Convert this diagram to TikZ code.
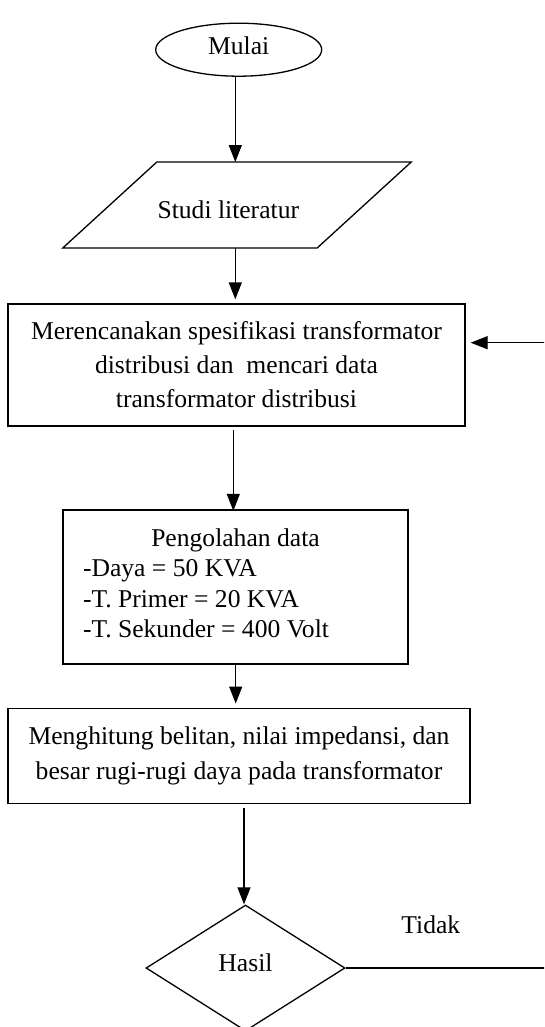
\documentclass[tikz,border=0pt]{standalone}
\usepackage{fontspec}
\setmainfont{Liberation Serif}
\usetikzlibrary{shapes.geometric,arrows.meta,calc}
\begin{document}
\begin{tikzpicture}[x=1pt,y=-1pt,
  every node/.style={font=\fontsize{25.6pt}{34pt}\selectfont},
  line/.style={line width=1.3pt},
  arr/.style={line width=1.3pt,-{Triangle[length=17pt,width=13pt]}},
  box/.style={draw,line width=1.3pt,rectangle,inner sep=0pt,align=center}]
\useasboundingbox (0,0) rectangle (544,1027);
\clip (0,0) rectangle (544,1027);
\fill[white] (0,0) rectangle (544,1027);

% nodes
\node[draw,ellipse,line width=1.3pt,minimum width=166pt,minimum height=53pt,
      inner sep=0pt,text depth=8.5pt] (mulai) at (238.7,49.7) {Mulai};
\node[minimum width=254pt,minimum height=85.5pt,inner sep=0pt] (lit) at (237,205) {};
\node[anchor=base,inner sep=0pt] (littext) at (228.3,218) {Studi literatur};
\node[box,minimum width=457pt,minimum height=122pt] (box1) at (236.5,365)
  {Merencanakan spesifikasi transformator\\ distribusi dan\ \ mencari data\\ transformator distribusi};
\node[box,minimum width=345pt,minimum height=154pt,align=left,
      font=\fontsize{25.6pt}{30.4pt}\selectfont,text depth=8pt] (box2) at (235.5,587)
  {\makebox[305pt][c]{Pengolahan data}\\ -Daya = 50 KVA\\ -T. Primer = 20 KVA\\ -T. Sekunder = 400 Volt};
\node[box,minimum width=462pt,minimum height=95pt,
      font=\fontsize{25.6pt}{35pt}\selectfont] (box3) at (239,755.7)
  {Menghitung belitan, nilai impedansi, dan\\ besar rugi-rugi daya pada transformator};
\node[draw,diamond,line width=1.3pt,minimum width=199pt,minimum height=126pt,
      inner sep=0pt,text depth=10pt] (hasil) at (245.5,968) {Hasil};
\node[anchor=base,inner sep=0pt] (tidak) at (430.8,933.3) {Tidak};

% parallelogram outline
\draw[line] ($(lit.north west)+(47,0)$) -- ($(lit.north east)+(47,0)$)
  -- ($(lit.south east)+(-47,0)$) -- ($(lit.south west)+(-47,0)$) -- cycle;

% helper coordinates
\coordinate (xa) at (235.3,0);
\coordinate (xb) at (233.3,0);
\coordinate (xc) at (235.7,0);
\coordinate (xd) at (244,0);
\coordinate (ret1) at (548,342.7);
\coordinate (ret2) at (548,968);

% connectors
\draw[arr] (mulai.south -| xa) -- (lit.north -| xa);
\draw[arr,shorten >=4pt] (lit.south -| xa) -- (box1.north -| xa);
\draw[arr,shorten <=3pt,shorten >=-1.5pt] (box1.south -| xb) -- (box2.north -| xb);
\draw[arr,shorten >=4pt] (box2.south -| xc) -- (box3.north -| xc);
\draw[arr,shorten <=4pt] (box3.south -| xd) -- (hasil.north -| xd);
\draw[arr,shorten >=5pt] (ret1) -- (box1.east |- ret1);
\draw[line] (hasil.east) -- (ret2);
\end{tikzpicture}
\end{document}
